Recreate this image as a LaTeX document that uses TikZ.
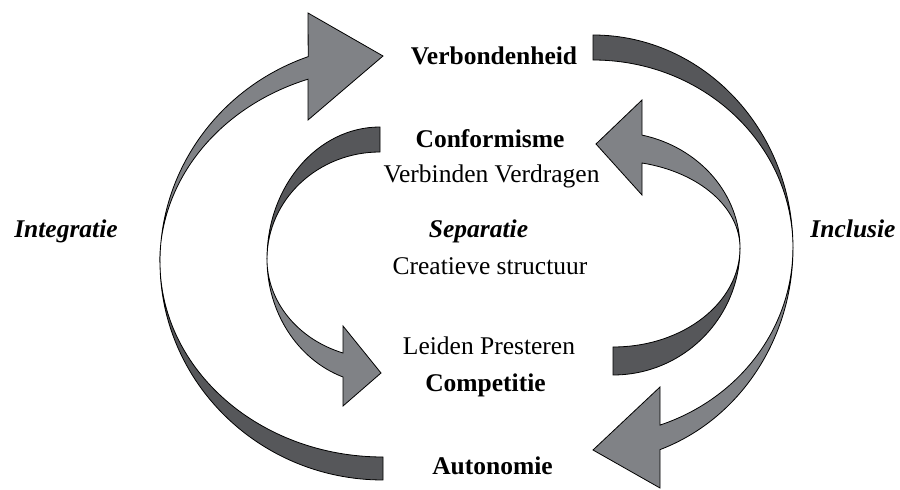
\documentclass[tikz,border=0pt]{standalone}
\usepackage{fontspec}
\setmainfont{Liberation Serif}
\definecolor{lightgr}{RGB}{128,130,134}
\definecolor{darkgr}{RGB}{86,87,90}
\begin{document}
\begin{tikzpicture}[x=1pt,y=1pt,
  lightpart/.style={fill=lightgr,draw=black,line width=0.8pt},
  darkpart/.style={fill=darkgr,draw=black,line width=0.8pt},
  lbl/.style={anchor=base,inner sep=0pt,font=\fontsize{25.5}{30}\selectfont},
  blbl/.style={lbl,font=\fontsize{25.5}{30}\selectfont\bfseries},
  ilbl/.style={lbl,font=\fontsize{25.5}{30}\selectfont\bfseries\itshape}]
\useasboundingbox (0,0) rectangle (900,490);
% ---------- left outer arrow (Integratie) ----------
\draw[darkpart] (160,228) arc[start angle=180,end angle=270,x radius=223,y radius=218]
  -- (383,33) arc[start angle=270,end angle=180,x radius=223,y radius=195] -- cycle;
\draw[lightpart] (160,228) arc[start angle=180,end angle=109.6,x radius=223,y radius=218]
  -- (308,477) -- (383,434) -- (308,370) -- (308,410.8)
  arc[start angle=109.6,end angle=180,x radius=223,y radius=194] -- cycle;
% ---------- left inner arrow (Separatie) ----------
\draw[darkpart] (267,231) arc[start angle=180,end angle=90,x radius=113,y radius=132]
  -- (380,338) arc[start angle=90,end angle=180,x radius=113,y radius=107] -- cycle;
\draw[lightpart] (267,231) arc[start angle=180,end angle=250.9,x radius=113,y radius=124.9]
  -- (343,84) -- (381,117) -- (343,164) -- (343,137)
  arc[start angle=250.9,end angle=180,x radius=113,y radius=99.5] -- cycle;
% ---------- right inner arrow (Conformisme) ----------
\draw[darkpart] (740,242) arc[start angle=0,end angle=-90,x radius=127,y radius=127]
  -- (613,143) arc[start angle=-90,end angle=0,x radius=127,y radius=99] -- cycle;
\draw[lightpart] (740,242) arc[start angle=0,end angle=76.8,x radius=127,y radius=116]
  -- (642,390) -- (596,346) -- (642,295) -- (642,327)
  arc[start angle=76.8,end angle=0,x radius=127,y radius=87.3] -- cycle;
% ---------- right outer arrow (Inclusie) ----------
\draw[darkpart] (793,242) arc[start angle=0,end angle=90,x radius=200,y radius=213]
  -- (593,430) arc[start angle=90,end angle=0,x radius=200,y radius=188] -- cycle;
\draw[lightpart] (793,242) arc[start angle=0,end angle=-70.4,x radius=200,y radius=214]
  -- (660,2) -- (593,40) -- (660,103) -- (660,64.9)
  arc[start angle=-70.4,end angle=0,x radius=200,y radius=188] -- cycle;
% ---------- labels ----------
\node[blbl] (verb) at (494,425) {Verbondenheid};
\node[blbl] (conf) at (490,342) {Conformisme};
\node[lbl]  (vv)   at (491.5,307) {Verbinden Verdragen};
\node[ilbl] (sep)  at (478.5,252) {Separatie};
\node[lbl]  (cs)   at (490,215) {Creatieve structuur};
\node[lbl]  (lp)   at (489,135) {Leiden Presteren};
\node[blbl] (comp) at (485.5,98) {Competitie};
\node[blbl] (auto) at (492.5,15) {Autonomie};
\node[ilbl] (integ) at (66,252) {Integratie};
\node[ilbl] (incl) at (853,252) {Inclusie};
\end{tikzpicture}
\end{document}
